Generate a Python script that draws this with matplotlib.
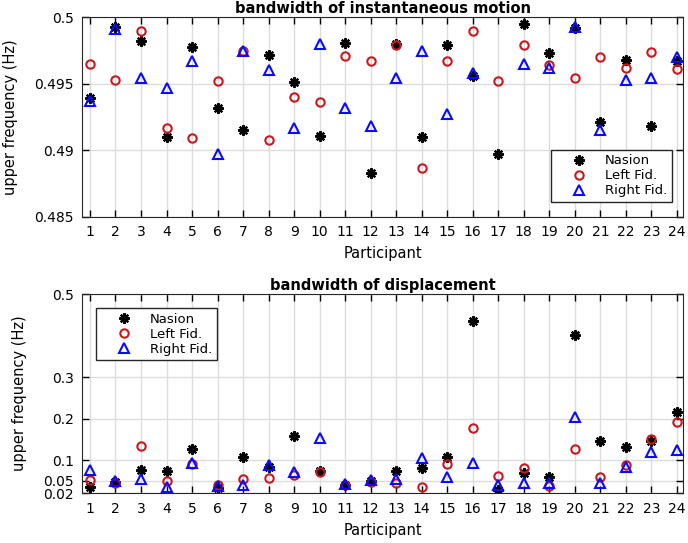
import numpy as np
import matplotlib.pyplot as plt

participants = np.arange(1, 25)

# bandwidth of instantaneous motion (Hz)
inst_nasion = [0.4939, 0.4993, 0.4982, 0.4910, 0.4978, 0.4932, 0.4915, 0.4972,
               0.4951, 0.4911, 0.4981, 0.4883, 0.4980, 0.4910, 0.4979, 0.4956,
               0.4897, 0.4995, 0.4973, 0.4992, 0.4921, 0.4968, 0.4918, 0.4967]
inst_left = [0.4965, 0.4953, 0.4990, 0.4917, 0.4909, 0.4952, 0.4975, 0.4908,
             0.4940, 0.4936, 0.4971, 0.4967, 0.4979, 0.4887, 0.4967, 0.4990,
             0.4952, 0.4979, 0.4964, 0.4954, 0.4970, 0.4962, 0.4974, 0.4961]
inst_right = [0.4937, 0.4991, 0.4954, 0.4947, 0.4967, 0.4897, 0.4975, 0.4960,
              0.4917, 0.4980, 0.4932, 0.4918, 0.4954, 0.4975, 0.4927, 0.4958,
              np.nan, 0.4965, 0.4962, 0.4993, 0.4915, 0.4953, 0.4954, 0.4970]

# bandwidth of displacement (Hz)
disp_nasion = [0.036, 0.048, 0.076, 0.073, 0.127, 0.034, 0.107, 0.084,
               0.159, 0.074, 0.040, 0.050, 0.074, 0.081, 0.107, 0.436,
               0.029, 0.070, 0.060, 0.401, 0.146, 0.131, 0.146, 0.215]
disp_left = [0.052, 0.044, 0.135, 0.049, 0.090, 0.040, 0.054, 0.058,
             0.064, 0.072, 0.039, 0.047, 0.044, 0.036, 0.090, 0.177,
             0.062, 0.082, 0.037, 0.126, 0.059, 0.087, 0.150, 0.192]
disp_right = [0.076, 0.050, 0.054, 0.036, 0.094, 0.037, 0.041, 0.087,
              0.072, 0.154, 0.042, 0.052, 0.054, 0.104, 0.060, 0.094,
              0.041, 0.046, 0.045, 0.204, 0.044, 0.084, 0.119, 0.124]

labels = ['Nasion', 'Left Fid.', 'Right Fid.']
red = '#c8191e'
blue = '#0a0aff'


def draw(ax, nasion, left, right):
    ax.plot(participants, nasion, linestyle='none', marker=(8, 2, 0),
            markersize=7.5, markeredgewidth=1.6, color='black', label=labels[0])
    ax.plot(participants, left, linestyle='none', marker='o', markersize=6,
            markerfacecolor='none', markeredgewidth=1.5, markeredgecolor=red,
            label=labels[1])
    ax.plot(participants, right, linestyle='none', marker='^', markersize=6.5,
            markerfacecolor='none', markeredgewidth=1.5, markeredgecolor=blue,
            label=labels[2])
    ax.set_xlim(0.7, 24.25)
    ax.set_xticks(participants)
    ax.grid(True, color='#dcdcdc', linewidth=1)
    ax.set_axisbelow(True)
    ax.tick_params(direction='in', top=True, right=True, length=5,
                   labelsize=10, width=1, pad=6)
    for s in ax.spines.values():
        s.set_color('#262626')
    ax.set_xlabel('Participant', fontsize=10.5, labelpad=5)
    ax.set_ylabel('upper frequency (Hz)', fontsize=10.5, labelpad=12)


def add_legend(ax, loc, anchor):
    ax.legend(loc=loc, bbox_to_anchor=anchor, fancybox=False,
              edgecolor='#262626', fontsize=9.5, handletextpad=0.15,
              handlelength=3.6, borderpad=0.35, labelspacing=0.15,
              framealpha=1, borderaxespad=0)


fig = plt.figure(figsize=(6.88, 5.43), dpi=100)
ax1 = fig.add_axes([0.1196, 0.6009, 0.8736, 0.3672])
ax2 = fig.add_axes([0.1196, 0.0915, 0.8736, 0.3670])

draw(ax1, inst_nasion, inst_left, inst_right)
ax1.set_ylim(0.485, 0.5)
ax1.set_yticks([0.485, 0.49, 0.495, 0.5])
ax1.set_yticklabels(['0.485', '0.49', '0.495', '0.5'])
ax1.set_title('bandwidth of instantaneous motion', fontsize=10.5,
              fontweight='bold', pad=3)
add_legend(ax1, 'lower right', (0.981, 0.074))

draw(ax2, disp_nasion, disp_left, disp_right)
ax2.set_ylim(0.02, 0.5)
ax2.set_yticks([0.02, 0.05, 0.1, 0.2, 0.3, 0.5])
ax2.set_yticklabels(['0.02', '0.05', '0.1', '0.2', '0.3', '0.5'])
ax2.set_title('bandwidth of displacement', fontsize=10.5,
              fontweight='bold', pad=3)
add_legend(ax2, 'upper left', (0.023, 0.93))

fig.savefig('out.png', dpi=100)
